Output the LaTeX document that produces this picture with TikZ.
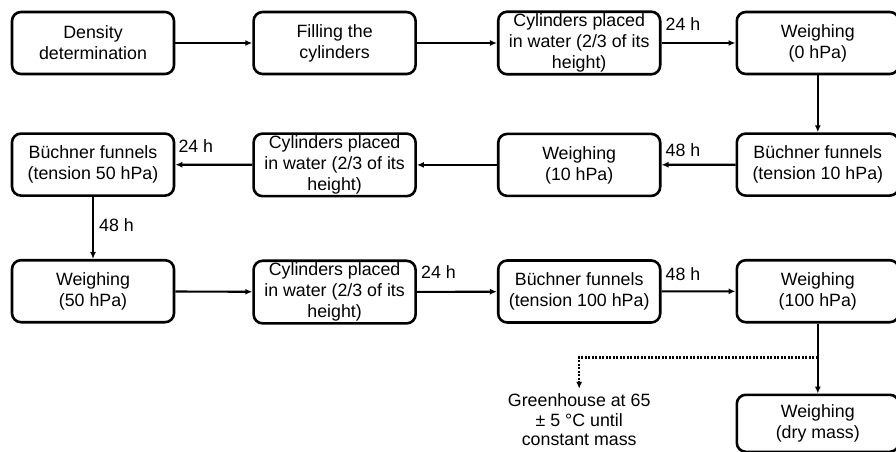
\documentclass[tikz,border=0pt]{standalone}
\usepackage{fontspec}
\setmainfont{Liberation Sans}
\usetikzlibrary{arrows.meta, positioning, calc}

\begin{document}
\begin{tikzpicture}[
    x=1pt, y=1pt,
    font=\fontsize{17.8pt}{21pt}\selectfont,
    box/.style={rectangle, draw, rounded corners=9pt, line width=2.6pt, minimum width=162pt, minimum height=62pt, align=center, inner sep=2pt},
    flow/.style={-{Latex[length=7pt,width=6pt]}, line width=2.1pt},
    hours/.style={anchor=base west, inner sep=0pt},
    note/.style={align=center, inner sep=5pt, font=\fontsize{17.8pt}{19.5pt}\selectfont}
]
\useasboundingbox (0,0) rectangle (896,-452);

% First row
\node[box] (density) at (93,-43) {Density\\determination};
\node[box, right=77pt of density] (filling) {Filling the\\cylinders};
\node[box, right=80pt of filling] (soak1) {Cylinders placed\\in water (2/3 of its\\height)};
\node[box, right=74pt of soak1] (weigh0) {Weighing\\(0 hPa)};

% Second row (right to left)
\node[box, below=57pt of weigh0] (funnel10) {Büchner funnels\\(tension 10 hPa)};
\node[box, below=57pt of soak1] (weigh10) {Weighing\\(10 hPa)};
\node[box, below=57pt of filling] (soak2) {Cylinders placed\\in water (2/3 of its\\height)};
\node[box, below=57pt of density] (funnel50) {Büchner funnels\\(tension 50 hPa)};

% Third row
\node[box, below=62pt of funnel50] (weigh50) {Weighing\\(50 hPa)};
\node[box, below=62pt of soak2] (soak3) {Cylinders placed\\in water (2/3 of its\\height)};
\node[box, below=62pt of weigh10] (funnel100) {Büchner funnels\\(tension 100 hPa)};
\node[box, below=62pt of funnel10] (weigh100) {Weighing\\(100 hPa)};

% Final step
\node[box, below=70pt of weigh100, minimum height=57pt] (weighdry) {Weighing\\(dry mass)};
\node[note, below=65pt of funnel100] (oven) {Greenhouse at 65\\± 5 °C until\\constant mass};
\coordinate (split) at ([yshift=-34pt]weigh100.south);

% Arrows
\draw[flow] (density) -- (filling);
\draw[flow] (filling) -- (soak1);
\draw[flow] (soak1) -- (weigh0);
\draw[flow] (weigh0) -- (funnel10);
\draw[flow] (funnel10) -- (weigh10);
\draw[flow] (weigh10) -- (soak2);
\draw[flow] (soak2) -- (funnel50);
\draw[flow] (funnel50) -- (weigh50);
\draw[flow] (weigh50) -- (soak3);
\draw[flow] (soak3) -- (funnel100);
\draw[flow] (funnel100) -- (weigh100);
\draw[flow] (weigh100) -- (weighdry);
\draw[flow, dash pattern=on 2pt off 1.5pt] (split) -| (oven.north);

% Waiting times
\node[hours] at ([xshift=4pt,yshift=12pt]soak1.east) {24 h};
\node[hours] at ([xshift=4pt,yshift=8pt]weigh10.east) {48 h};
\node[hours] at ([xshift=3pt,yshift=12pt]funnel50.east) {24 h};
\node[hours] at ([xshift=6pt,yshift=-35pt]funnel50.south) {48 h};
\node[hours] at ([xshift=4pt,yshift=14pt]soak3.east) {24 h};
\node[hours] at ([xshift=4pt,yshift=11pt]funnel100.east) {48 h};

\end{tikzpicture}
\end{document}
